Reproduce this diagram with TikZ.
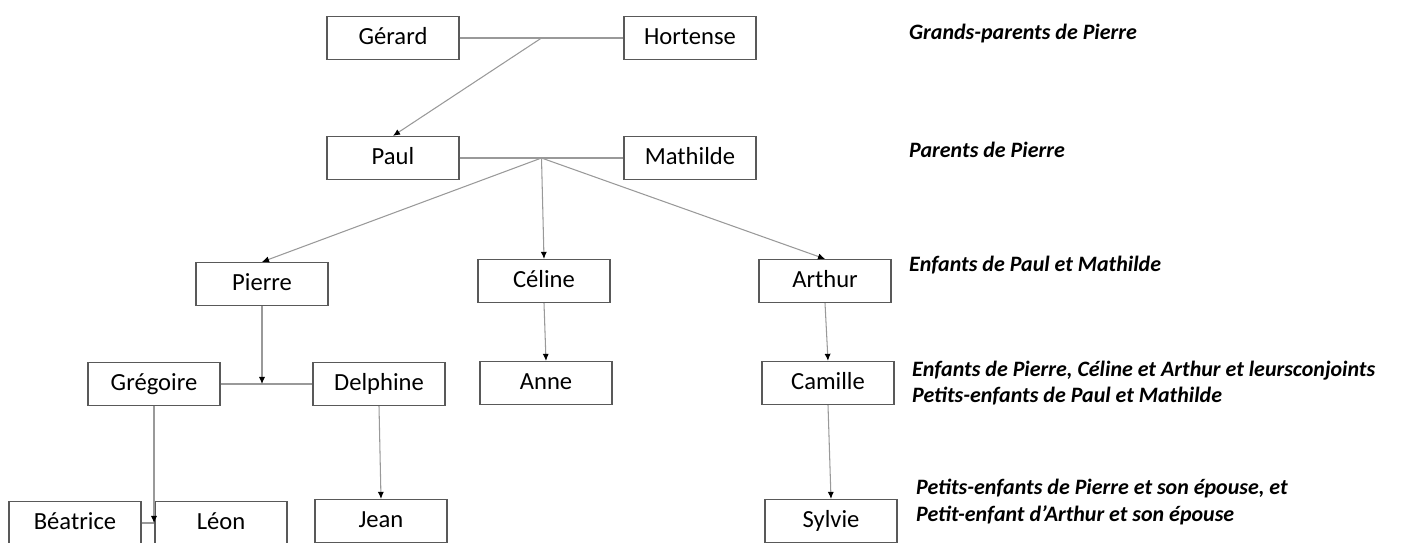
\documentclass[tikz,border=0pt]{standalone}
\usepackage{fontspec}
\setmainfont{Carlito}
\usetikzlibrary{arrows.meta}

\tikzset{
  personne/.style={draw=black!65, line width=0.7pt, minimum width=26.4mm, minimum height=8.6mm, inner sep=0pt, text height=10pt, text depth=3pt, font=\fontsize{14}{16}\selectfont},
  legende/.style={anchor=west, align=left, font=\fontsize{12.5}{15}\selectfont\bfseries\itshape},
  lien/.style={draw=black!40, line width=0.6pt},
  fleche/.style={lien, -{Latex[length=4pt,width=3.5pt,black]}}
}

\begin{document}
\begin{tikzpicture}[x=0.2mm,y=-0.2mm]
\useasboundingbox (0,0) rectangle (1421,542);
\clip (0,0) rectangle (1421,542);

% grands-parents
\node[personne] (gerard) at (393,38) {Gérard};
\node[personne] (hortense) at (690,38) {Hortense};
% parents
\node[personne] (paul) at (393,158) {Paul};
\node[personne] (mathilde) at (690,158) {Mathilde};
% enfants
\node[personne] (pierre) at (262,284) {Pierre};
\node[personne] (celine) at (544,281) {Céline};
\node[personne] (arthur) at (825,281) {Arthur};
% petits-enfants
\node[personne] (gregoire) at (154,384) {Grégoire};
\node[personne] (delphine) at (379,384) {Delphine};
\node[personne] (anne) at (546,383) {Anne};
\node[personne] (camille) at (828,383) {Camille};
% arriere-petits-enfants
\node[personne] (beatrice) at (75,523) {Béatrice};
\node[personne] (leon) at (221,523) {Léon};
\node[personne] (jean) at (381,521) {Jean};
\node[personne] (sylvie) at (831,521) {Sylvie};

% couples
\draw[lien] (gerard.east) -- (hortense.west) coordinate[pos=0.5] (gh);
\draw[lien] (paul.east) -- (mathilde.west) coordinate[pos=0.5] (pm);
\draw[lien] (gregoire.east) -- (delphine.west);
\draw[lien] (beatrice.east) -- (leon.west);
\coordinate (gd) at (pierre.south |- gregoire.east);
\coordinate (bl) at (gregoire.south |- beatrice.east);

% filiations
\draw[fleche] (gh) -- (paul.north);
\draw[fleche] (pm) -- (pierre.north);
\draw[fleche] (pm) -- (celine.north);
\draw[fleche] (pm) -- (arthur.north);
\draw[fleche] (pierre.south) -- (gd);
\draw[fleche] (celine.south) -- (anne.north);
\draw[fleche] (arthur.south) -- (camille.north);
\draw[fleche] (gregoire.south) -- (bl);
\draw[fleche] (delphine.south) -- (jean.north);
\draw[fleche] (camille.south) -- (sylvie.north);

% legendes
\node[legende] (l1) at (903,34) {Grands-parents de Pierre};
\node[legende] (l2) at (903,150) {Parents de Pierre};
\node[legende] (l3) at (903,265) {Enfants de Paul et Mathilde};
\node[legende] (l4) at (906,383) {Enfants de Pierre, Céline et Arthur et leursconjoints\\Petits-enfants de Paul et Mathilde};
\node[legende] (l5) at (910,502) {Petits-enfants de Pierre et son épouse, et\\Petit-enfant d'Arthur et son épouse};

\end{tikzpicture}
\end{document}
